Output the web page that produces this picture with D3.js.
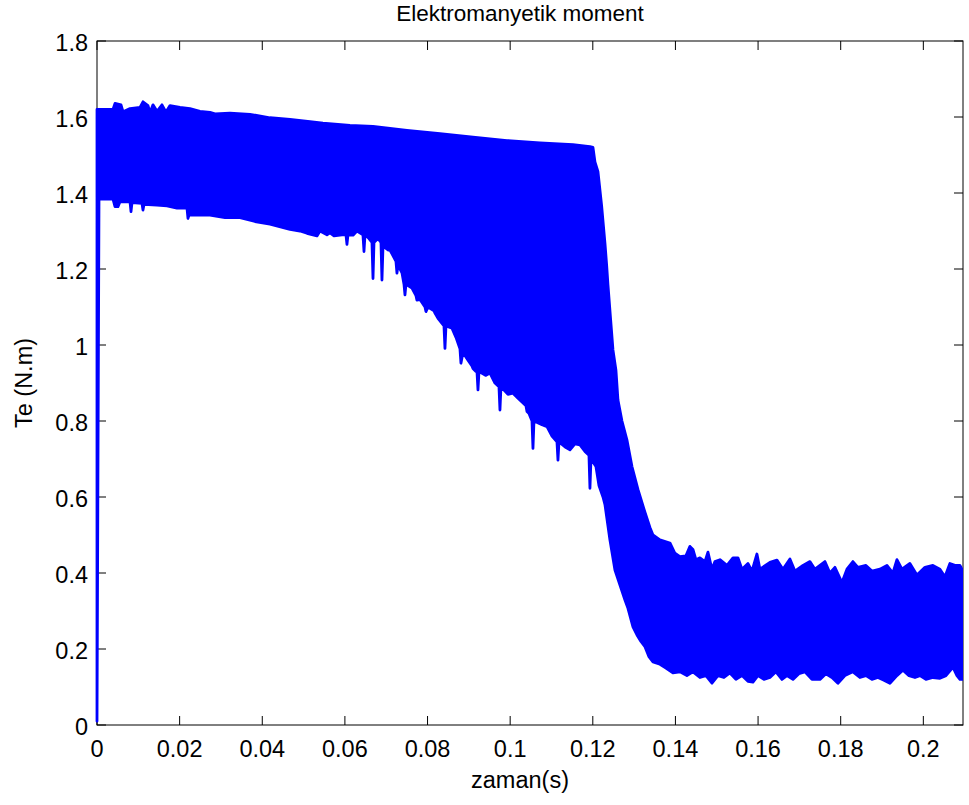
<!DOCTYPE html>
<html>
<head>
<meta charset="utf-8">
<script src="https://cdn.jsdelivr.net/npm/d3@7"></script>
<style>
  body { margin: 0; background: #fff; }
  svg text { font-family: "Liberation Sans", Arial, sans-serif; fill: #000; }
</style>
</head>
<body>
<div id="chart"></div>
<script>
// upper envelope of Te, time in ms
var upperTime = [0, 3.87, 4.36, 5.81, 6.29, 7.99, 10.41, 11.13, 12.34, 12.83, 13.55, 14.52, 15.73, 16.70, 17.67,
    20.09, 22.51, 24.93, 27.35, 28.56, 32.19, 37.03, 41.87, 46.71, 51.55, 54.69, 61.23, 66.80, 75.02, 83.01,
    91.00, 99.22, 107.21, 115.20, 119.31, 120.04, 120.52, 121.25, 122.14, 122.94, 123.35, 123.67, 124.32,
    124.88, 125.60, 126.09, 127.06, 128.27, 129.48, 130.93, 132.62, 133.83, 134.56, 136.25, 138.67, 139.88,
    141.09, 142.54, 143.51, 144.24, 144.96, 145.93, 147.14, 147.87, 148.84, 149.56, 150.77, 152.47, 153.92,
    155.13, 156.10, 157.55, 158.52, 159.73, 160.45, 162.87, 164.57, 166.02, 167.71, 168.92, 170.86, 172.55,
    173.76, 176.18, 177.39, 178.60, 180.30, 181.51, 182.96, 184.17, 186.11, 187.56, 189.49, 191.19, 192.64,
    193.61, 194.82, 196.75, 198.45, 200.39, 202.32, 204.02, 205.23, 206.43, 207.65, 208.86, 209.58];
var upperTe = [1.620, 1.620, 1.636, 1.632, 1.614, 1.622, 1.625, 1.640, 1.630, 1.612, 1.632, 1.615, 1.632, 1.613, 1.630,
    1.625, 1.622, 1.615, 1.612, 1.608, 1.610, 1.607, 1.598, 1.594, 1.588, 1.584, 1.578, 1.575, 1.565, 1.556,
    1.547, 1.538, 1.532, 1.527, 1.522, 1.520, 1.482, 1.456, 1.366, 1.268, 1.210, 1.158, 1.066,
    0.987, 0.934, 0.855, 0.800, 0.750, 0.680, 0.620, 0.560, 0.520, 0.500, 0.487, 0.479, 0.452,
    0.443, 0.445, 0.470, 0.462, 0.435, 0.440, 0.430, 0.455, 0.410, 0.430, 0.435, 0.420, 0.440,
    0.440, 0.410, 0.425, 0.405, 0.450, 0.410, 0.428, 0.434, 0.410, 0.437, 0.405, 0.420, 0.430,
    0.410, 0.430, 0.400, 0.415, 0.375, 0.410, 0.430, 0.415, 0.420, 0.405, 0.410, 0.420, 0.400,
    0.435, 0.410, 0.425, 0.395, 0.415, 0.420, 0.410, 0.390, 0.425, 0.420, 0.420, 0.405];

// lower envelope of Te, time in ms (narrow dips are the single spikes of the signal)
var lowerTime = [0, 0.48, 3.87, 4.36, 5.08, 5.57, 7.99, 8.23, 8.47, 10.89, 11.13, 11.37, 14.52, 16.94, 19.36,
    21.78, 22.02, 22.26, 27.35, 30.98, 34.61, 38.24, 41.87, 46.71, 49.13, 50.82, 53.24, 53.97, 55.66, 56.39,
    57.36, 59.29, 60.26, 60.50, 60.74, 61.96,
    62.92, 64.37, 64.62, 64.86, 65.83, 66.55, 66.80, 67.04, 68.01, 68.73, 68.97, 69.22, 70.43, 70.91,
    72.36, 72.60, 72.85, 73.81, 74.30, 74.54, 74.78, 76.23, 77.20, 77.44, 78.17, 79.38, 79.62, 80.11,
    81.56, 81.80, 82.53, 83.98, 84.22, 84.46, 85.91, 86.88, 87.85, 88.09, 88.58, 89.79, 90.75, 91.00,
    91.72, 91.97, 92.21, 92.45, 94.14, 95.11, 96.32, 97.29, 97.53, 97.77, 99.47, 100.68, 101.89, 102.86,
    103.82, 104.07, 104.55, 105.28, 105.52, 105.76, 107.70, 108.91, 110.12, 111.33, 111.57, 111.81,
    113.50, 114.47, 115.68, 116.89, 118.10, 119.07, 119.31, 119.56, 120.76, 121.49, 122.46,
    122.94, 124.15, 125.36, 126.57, 127.78, 128.51, 129.72, 130.69, 131.65, 132.62, 133.59, 134.56, 136.25,
    137.70, 139.39, 141.09, 142.78, 144.24, 145.93, 147.38, 148.84, 150.29, 151.74, 153.19, 154.64, 156.10,
    157.55, 158.76, 159.97, 161.42, 162.87, 164.33, 165.78, 166.99, 168.44, 169.89, 171.34, 173.04, 174.98,
    176.42, 177.88, 179.33, 181.03, 182.96, 184.65, 186.11, 187.56, 189.01, 190.46, 191.91, 193.61, 195.06,
    196.52, 197.97, 199.18, 200.63, 202.32, 204.02, 205.47, 207.16, 208.13, 208.86, 209.58];
var lowerTe = [0.010, 1.384, 1.384, 1.364, 1.364, 1.377, 1.377, 1.351, 1.375, 1.373, 1.355, 1.370, 1.368, 1.366, 1.360,
    1.360, 1.333, 1.342, 1.342, 1.335, 1.335, 1.325, 1.318, 1.304, 1.300, 1.294, 1.287, 1.300, 1.290, 1.295,
    1.287, 1.290, 1.290, 1.265, 1.290, 1.289,
    1.300, 1.290, 1.246, 1.290, 1.280, 1.270, 1.175, 1.270, 1.280, 1.270, 1.171, 1.260, 1.250, 1.250,
    1.220, 1.189, 1.210, 1.190, 1.160, 1.132, 1.160, 1.150, 1.130, 1.118, 1.120, 1.100, 1.088, 1.100,
    1.090, 1.084, 1.070, 1.050, 0.991, 1.050, 1.044, 1.020, 0.990, 0.952, 0.980, 0.960, 0.945, 0.938,
    0.930, 0.930, 0.882, 0.930, 0.920, 0.926, 0.900, 0.890, 0.829, 0.890, 0.870, 0.873, 0.860, 0.850,
    0.840, 0.825, 0.820, 0.800, 0.728, 0.800, 0.790, 0.785, 0.760, 0.745, 0.697, 0.745,
    0.730, 0.724, 0.740, 0.737, 0.720, 0.710, 0.623, 0.700, 0.680, 0.630, 0.600,
    0.580, 0.487, 0.408, 0.368, 0.329, 0.307, 0.258, 0.237, 0.220, 0.206, 0.180, 0.166, 0.160,
    0.150, 0.137, 0.140, 0.130, 0.140, 0.125, 0.130, 0.110, 0.130, 0.125, 0.137, 0.120, 0.130,
    0.115, 0.113, 0.130, 0.120, 0.125, 0.140, 0.120, 0.130, 0.120, 0.135, 0.140, 0.120, 0.120,
    0.135, 0.125, 0.110, 0.130, 0.140, 0.125, 0.130, 0.120, 0.125, 0.118, 0.110, 0.130, 0.144,
    0.130, 0.125, 0.130, 0.120, 0.125, 0.123, 0.130, 0.152, 0.130, 0.120, 0.120];

var xTicks = [0, 0.02, 0.04, 0.06, 0.08, 0.1, 0.12, 0.14, 0.16, 0.18, 0.2];
var yTicks = [0, 0.2, 0.4, 0.6, 0.8, 1, 1.2, 1.4, 1.6, 1.8];

var titleText = "Elektromanyetik moment";
var xLabel = "zaman(s)";
var yLabel = "Te (N.m)";

// sizes
var W = 969, H = 805;
var margin = {top: 41, right: 6, bottom: 80, left: 97};
var plotW = W - margin.left - margin.right;
var plotH = H - margin.top - margin.bottom;
var tickLen = 9;
var fontSize = 23.5;
var labelCenter = 520;

var svg = d3.select("#chart").append("svg").attr("width", W).attr("height", H);

var x = d3.scaleLinear().domain([0, 0.2096]).range([0, plotW]);
var y = d3.scaleLinear().domain([0, 1.8]).range([plotH, 0]);

var g = svg.append("g").attr("transform", "translate(" + margin.left + "," + margin.top + ")");

//box
g.append("rect")
    .attr("x", 0).attr("y", 0)
    .attr("width", plotW).attr("height", plotH)
    .attr("fill", "none").attr("stroke", "#000").attr("stroke-width", 1);

// ticks, inward on all 4 sides (matlab style)
xTicks.forEach(function (t) {
    g.append("line").attr("x1", x(t)).attr("x2", x(t)).attr("y1", plotH).attr("y2", plotH - tickLen)
        .attr("stroke", "#000");
    g.append("line").attr("x1", x(t)).attr("x2", x(t)).attr("y1", 0).attr("y2", tickLen)
        .attr("stroke", "#000");
    g.append("text")
        .attr("x", x(t)).attr("y", plotH + 32)
        .attr("text-anchor", "middle")
        .style("font-size", fontSize + "px")
        .text(d3.format("~g")(t));
});
yTicks.forEach(function (v) {
    g.append("line").attr("x1", 0).attr("x2", tickLen).attr("y1", y(v)).attr("y2", y(v))
        .attr("stroke", "#000");
    g.append("line").attr("x1", plotW).attr("x2", plotW - tickLen).attr("y1", y(v)).attr("y2", y(v))
        .attr("stroke", "#000");
    g.append("text")
        .attr("x", -9).attr("y", y(v) + 10)
        .attr("text-anchor", "end")
        .style("font-size", fontSize + "px")
        .text(d3.format("~g")(v));
});

// data band, drawn over the axes like matlab
g.append("clipPath").attr("id", "clip")
    .append("rect").attr("x", -2).attr("y", -2).attr("width", plotW + 2).attr("height", plotH + 2);

var upperPts = upperTime.map(function (t, i) { return [x(t / 1000), y(upperTe[i])]; });
var lowerPts = lowerTime.map(function (t, i) { return [x(t / 1000), y(lowerTe[i])]; }).reverse();

g.append("path")
    .attr("clip-path", "url(#clip)")
    .attr("d", d3.line()(upperPts.concat(lowerPts)) + "Z")
    .attr("fill", "#0000ff")
    .attr("stroke", "#0000ff")
    .attr("stroke-width", 2.8)
    .attr("stroke-linejoin", "round");

// labels
svg.append("text")
    .attr("x", labelCenter).attr("y", 21)
    .attr("text-anchor", "middle")
    .style("font-size", "22.5px")
    .text(titleText);

svg.append("text")
    .attr("x", labelCenter).attr("y", 788)
    .attr("text-anchor", "middle")
    .style("font-size", fontSize + "px")
    .text(xLabel);

svg.append("text")
    .attr("transform", "translate(32," + (margin.top + plotH / 2) + ") rotate(-90)")
    .attr("text-anchor", "middle")
    .style("font-size", fontSize + "px")
    .text(yLabel);
</script>
</body>
</html>
